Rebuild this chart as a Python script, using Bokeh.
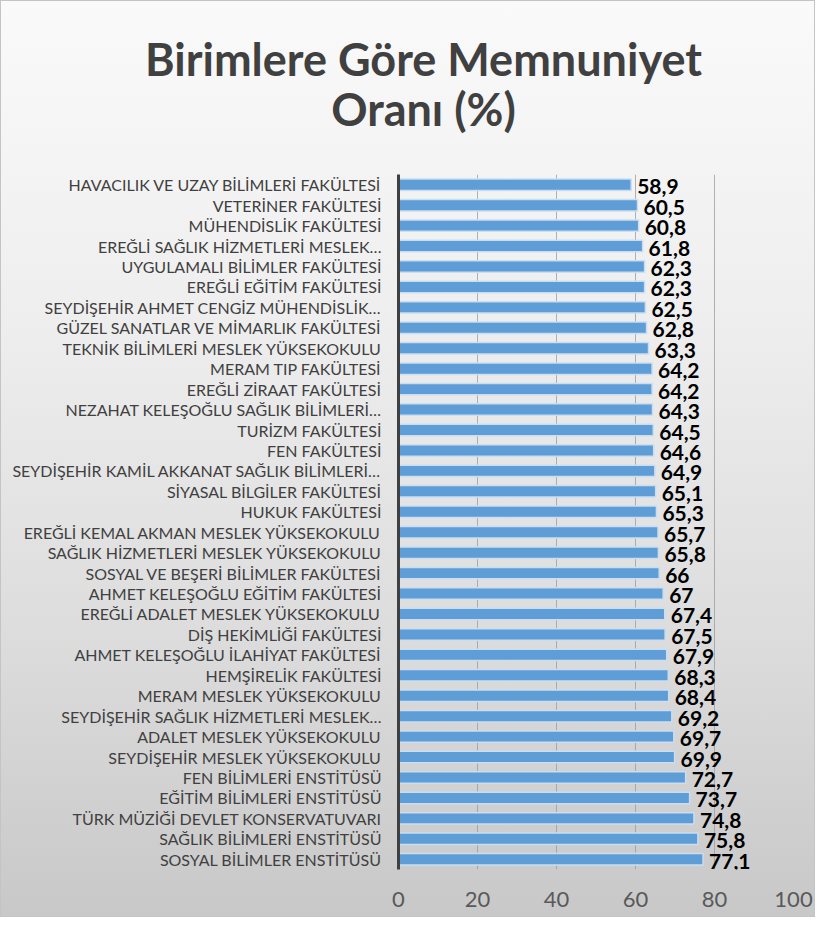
from bokeh.plotting import figure
from bokeh.layouts import column
from bokeh.models import ColumnDataSource, FactorRange, Range1d, FixedTicker, LabelSet
from bokeh.core.properties import value
from bokeh.embed import file_html
from bokeh.resources import INLINE

# Categories (top to bottom as shown)
units = [
    "HAVACILIK VE UZAY BİLİMLERİ FAKÜLTESİ",
    "VETERİNER FAKÜLTESİ",
    "MÜHENDİSLİK FAKÜLTESİ",
    "EREĞLİ SAĞLIK HİZMETLERİ MESLEK…",
    "UYGULAMALI BİLİMLER FAKÜLTESİ",
    "EREĞLİ EĞİTİM FAKÜLTESİ",
    "SEYDİŞEHİR AHMET CENGİZ MÜHENDİSLİK…",
    "GÜZEL SANATLAR VE MİMARLIK FAKÜLTESİ",
    "TEKNİK BİLİMLERİ MESLEK YÜKSEKOKULU",
    "MERAM TIP FAKÜLTESİ",
    "EREĞLİ ZİRAAT FAKÜLTESİ",
    "NEZAHAT KELEŞOĞLU SAĞLIK BİLİMLERİ…",
    "TURİZM FAKÜLTESİ",
    "FEN FAKÜLTESİ",
    "SEYDİŞEHİR KAMİL AKKANAT SAĞLIK BİLİMLERİ…",
    "SİYASAL BİLGİLER FAKÜLTESİ",
    "HUKUK FAKÜLTESİ",
    "EREĞLİ KEMAL AKMAN MESLEK YÜKSEKOKULU",
    "SAĞLIK HİZMETLERİ MESLEK YÜKSEKOKULU",
    "SOSYAL VE BEŞERİ BİLİMLER FAKÜLTESİ",
    "AHMET KELEŞOĞLU EĞİTİM FAKÜLTESİ",
    "EREĞLİ ADALET MESLEK YÜKSEKOKULU",
    "DİŞ HEKİMLİĞİ FAKÜLTESİ",
    "AHMET KELEŞOĞLU İLAHİYAT FAKÜLTESİ",
    "HEMŞİRELİK FAKÜLTESİ",
    "MERAM MESLEK YÜKSEKOKULU",
    "SEYDİŞEHİR SAĞLIK HİZMETLERİ MESLEK…",
    "ADALET MESLEK YÜKSEKOKULU",
    "SEYDİŞEHİR MESLEK YÜKSEKOKULU",
    "FEN BİLİMLERİ ENSTİTÜSÜ",
    "EĞİTİM BİLİMLERİ ENSTİTÜSÜ",
    "TÜRK MÜZİĞİ DEVLET KONSERVATUVARI",
    "SAĞLIK BİLİMLERİ ENSTİTÜSÜ",
    "SOSYAL BİLİMLER ENSTİTÜSÜ",
]

satisfaction = [
    58.9, 60.5, 60.8, 61.8, 62.3, 62.3, 62.5, 62.8, 63.3, 64.2,
    64.2, 64.3, 64.5, 64.6, 64.9, 65.1, 65.3, 65.7, 65.8, 66.0,
    67.0, 67.4, 67.5, 67.9, 68.3, 68.4, 69.2, 69.7, 69.9, 72.7,
    73.7, 74.8, 75.8, 77.1,
]

x_ticks = [0, 20, 40, 60, 80, 100]

title_lines = ["Birimlere Göre Memnuniyet", "Oranı (%)"]

value_labels = [f"{v:g}".replace(".", ",") for v in satisfaction]

source = ColumnDataSource(dict(unit=units, val=satisfaction, lbl=value_labels))

FONT = "Lato"
W = 813
TITLE_H = 173
MAIN_H = 915 - TITLE_H

# ---- title panel (separate small figure so the title can be centred on the page)
tp = figure(width=W, height=TITLE_H, x_range=Range1d(0, W), y_range=Range1d(0, TITLE_H),
            x_axis_type=None, y_axis_type=None, output_backend="svg",
            toolbar_location=None, title=None, min_border=0)
tp.frame_align = False
tp.border_fill_color = None
tp.background_fill_color = None
tp.outline_line_color = None
tp.xgrid.visible = False
tp.ygrid.visible = False
tp.text(x=[422, 422], y=[TITLE_H - 57, TITLE_H - 107], text=title_lines,
        text_align="center", text_baseline="middle",
        text_font=value(FONT), text_font_style="bold",
        text_font_size="45px", text_color="#404040")

# ---- main bar chart
p = figure(
    width=W, height=MAIN_H,
    y_range=FactorRange(factors=units[::-1], range_padding=0),
    x_range=Range1d(0, 100),
    output_backend="svg", toolbar_location=None, title=None,
    min_border_left=397, min_border_right=21, min_border_bottom=47,
    min_border_top=0,
)
p.frame_align = False

p.border_fill_color = None
p.background_fill_color = None
p.outline_line_color = None

p.hbar(y="unit", right="val", left=0, height=0.56, source=source,
       fill_color="#5f9dd6", line_color="#c9def2", line_width=1.5)

labels = LabelSet(x="val", y="unit", text="lbl", source=source,
                  x_offset=6, y_offset=-2, text_align="left", text_baseline="middle",
                  text_font=value(FONT), text_font_style="bold",
                  text_font_size="21px", text_color="#000000")
p.add_layout(labels)

p.xaxis.ticker = FixedTicker(ticks=x_ticks)
p.xaxis.axis_line_color = None
p.xaxis.major_tick_line_color = None
p.xaxis.minor_tick_line_color = None
p.xaxis.major_label_text_font = FONT
p.xaxis.major_label_text_font_size = "22px"
p.xaxis.major_label_text_color = "#595959"
p.xaxis.major_label_standoff = 16

p.yaxis.axis_line_color = "#404040"
p.yaxis.axis_line_width = 3
p.yaxis.major_tick_line_color = None
p.yaxis.minor_tick_line_color = None
p.yaxis.major_label_text_font = FONT
p.yaxis.major_label_text_font_size = "16px"
p.yaxis.major_label_text_color = "#404040"
p.yaxis.major_label_standoff = 11

p.ygrid.grid_line_color = None
p.xgrid.grid_line_color = "#9a9a9a"
p.xgrid.grid_line_alpha = 0.75
p.xgrid.ticker = FixedTicker(ticks=x_ticks[1:])

layout = column(tp, p, spacing=0)
layout.styles = {
    "background": "linear-gradient(to bottom, #fafafa 0%, #eeeeee 35%, #dcdcdc 70%, #c8c8c8 100%)",
    "border": "1px solid #c4c4c4",
}

open("out.html", "w").write(file_html(layout, INLINE))
